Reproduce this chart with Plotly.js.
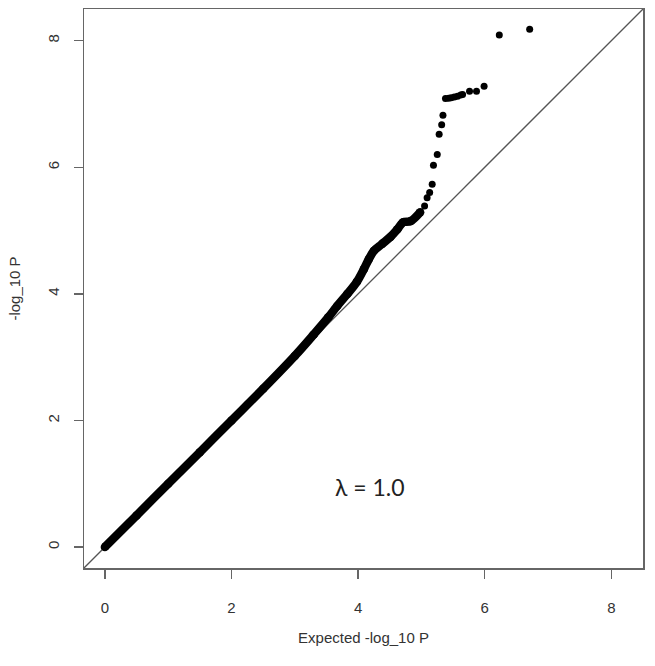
<!DOCTYPE html>
<html>
<head>
<meta charset="utf-8">
<script src="https://cdn.plot.ly/plotly-3.0.1.min.js"></script>
<style>html,body{margin:0;padding:0;background:#fff;}#chart{width:655px;height:666px;}</style>
</head>
<body>
<div id="chart"></div>
<script>
// Dense band of observed vs expected -log10 P (continuous run of overlapping points)
var bandExpected = [0, 0.5, 1.0, 1.5, 2.0, 2.5, 3.0, 3.3, 3.53, 3.67, 3.83, 3.98, 4.09, 4.17, 4.25, 4.38, 4.51, 4.62, 4.71, 4.83, 4.98];
var bandObserved = [0, 0.5, 1.0, 1.5, 2.0, 2.5, 3.02, 3.36, 3.63, 3.81, 4.00, 4.19, 4.39, 4.55, 4.68, 4.79, 4.90, 5.02, 5.13, 5.15, 5.29];
// Sparse tail points
var tailExpected = [5.05, 5.09, 5.13, 5.17, 5.19, 5.25, 5.28, 5.32, 5.34, 5.38, 5.43, 5.47, 5.52, 5.57, 5.62, 5.65, 5.76, 5.87, 5.99, 6.23, 6.71];
var tailObserved = [5.39, 5.52, 5.60, 5.73, 6.03, 6.20, 6.52, 6.67, 6.82, 7.085, 7.09, 7.10, 7.11, 7.12, 7.14, 7.15, 7.20, 7.20, 7.28, 8.09, 8.18];
var tickVals = [0, 2, 4, 6, 8];
var tickText = ["0", "2", "4", "6", "8"];
var axisRange = [-0.33, 8.5];
var lambdaLabel = "λ = 1.0";

var tickFont = {family: "Liberation Sans, Arial, sans-serif", size: 15, color: "#333"};
var traces = [
  {x: axisRange, y: axisRange, mode: "lines", line: {color: "#555", width: 1.3}, hoverinfo: "skip"},
  {x: bandExpected, y: bandObserved, mode: "lines+markers", line: {color: "#000", width: 8.5, shape: "spline"}, marker: {color: "#000", size: 8.5}},
  {x: tailExpected, y: tailObserved, mode: "markers", marker: {color: "#000", size: 7}}
];
function axis(title, standoff, angle) {
  return {
    range: axisRange, tickvals: tickVals, ticktext: tickText, tickangle: angle,
    ticks: "outside", ticklen: 9, tickwidth: 1.5, tickcolor: "#666",
    showline: true, mirror: true, linecolor: "#666", linewidth: 1.5,
    showgrid: false, zeroline: false, tickfont: tickFont, ticklabelstandoff: standoff,
    title: {text: title, font: {family: "Liberation Sans, Arial, sans-serif", size: 15, color: "#333"}, standoff: 0}
  };
}
var xa = axis("Expected -log_10 P", 16, 0);
xa.title.standoff = 18;
var ya = axis("-log_10 P", 9, -90);
ya.title.standoff = 20;
var layout = {
  width: 655, height: 666,
  margin: {l: 84, r: 12, t: 9, b: 98},
  paper_bgcolor: "#fff", plot_bgcolor: "#fff",
  showlegend: false,
  xaxis: xa, yaxis: ya,
  annotations: [{x: 4.19, y: 0.95, xref: "x", yref: "y", text: lambdaLabel, showarrow: false,
    font: {family: "Lato, Carlito, sans-serif", size: 23, color: "#222"}}]
};
Plotly.newPlot("chart", traces, layout, {staticPlot: true});
</script>
</body>
</html>
